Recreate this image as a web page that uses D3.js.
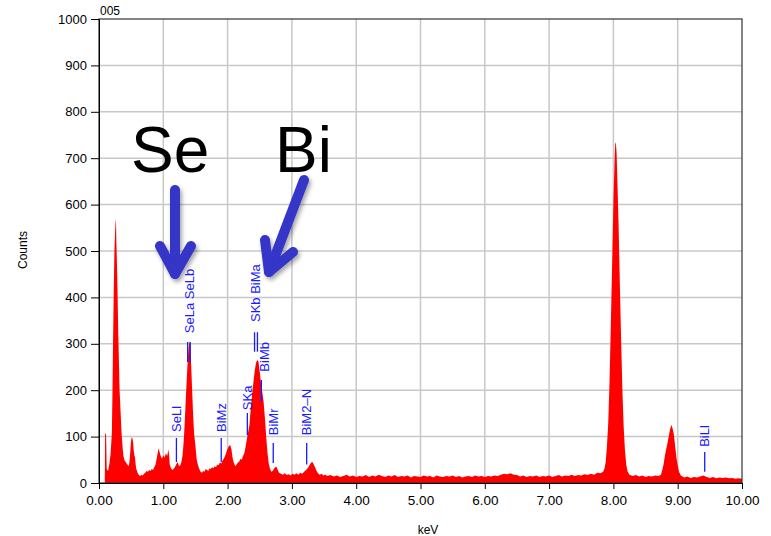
<!DOCTYPE html>
<html>
<head>
<meta charset="utf-8">
<script src="https://cdn.jsdelivr.net/npm/d3@7"></script>
<style>
  body { margin: 0; background: #fff; }
  svg { display: block; font-family: "Liberation Sans", Arial, sans-serif; }
</style>
</head>
<body>
<svg id="chart" width="771" height="536"></svg>
<script>
// spectrum: [keV, counts]
const lowEnergy = [
  [0.09,0],[0.095,108],[0.11,104],[0.12,30],[0.14,26],[0.16,40],[0.18,62],[0.20,108],[0.21,200],[0.22,320],
  [0.23,420],[0.24,500],[0.25,540],[0.26,569],[0.265,560],[0.27,520],[0.28,470],[0.29,400],[0.30,320],[0.31,260],
  [0.32,200],[0.33,170],[0.34,140],[0.35,110],[0.36,90],[0.37,72],[0.38,58],[0.39,52],[0.40,48],[0.42,44],
  [0.44,40],[0.46,36],[0.47,42],[0.48,55],[0.49,75],[0.50,92],[0.51,99],[0.52,96],[0.53,88],[0.54,70],
  [0.55,60],[0.56,55],[0.57,40],[0.58,30],[0.60,22],[0.62,17],[0.64,15],[0.66,18],[0.68,16],[0.70,20]
];
const seRegion = [
  [0.72,22],[0.74,26],[0.76,24],[0.78,28],[0.80,26],[0.82,30],[0.84,28],[0.86,34],[0.88,40],[0.90,55],
  [0.92,70],[0.93,75],[0.94,68],[0.96,58],[0.98,52],[1.00,60],[1.02,55],[1.04,64],[1.06,58],[1.08,72],
  [1.09,60],[1.10,40],[1.12,32],[1.14,28],[1.16,30],[1.18,34],[1.20,40],[1.22,45],[1.24,38],[1.26,36],
  [1.28,44],[1.30,60],[1.32,95],[1.34,150],[1.36,210],[1.38,265],[1.39,285],[1.40,300],[1.41,305],[1.42,290],
  [1.43,265],[1.44,230],[1.45,195],[1.46,160],[1.47,130],[1.48,105],[1.50,80],[1.52,50],[1.54,38],[1.56,30],
  [1.58,24],[1.60,22]
];
const biRegion = [
  [1.62,26],[1.64,24],[1.66,30],[1.68,28],[1.70,26],[1.72,32],[1.74,30],[1.76,34],[1.78,32],[1.80,36],
  [1.82,34],[1.84,40],[1.86,38],[1.88,44],[1.90,42],[1.92,48],[1.94,52],[1.96,58],[1.98,66],[2.00,74],
  [2.02,80],[2.04,82],[2.06,72],[2.08,52],[2.10,42],[2.12,36],[2.14,40],[2.16,44],[2.18,46],[2.20,52],
  [2.22,50],[2.24,58],[2.26,64],[2.28,78],[2.30,95],[2.32,110],[2.34,125],[2.36,160],[2.38,190],[2.40,215],
  [2.42,240],[2.44,258],[2.46,265],[2.48,262],[2.50,240],[2.52,215],[2.54,195],[2.56,175],[2.58,140],[2.60,100],
  [2.62,65],[2.64,42],[2.66,30],[2.68,24],[2.70,26],[2.72,30],[2.74,34],[2.76,35],[2.78,28],[2.80,22],
  [2.83,20],[2.86,18],[2.89,21],[2.92,17],[2.95,19],[2.98,16],[3.01,20],[3.04,18],[3.07,21],[3.10,18],
  [3.13,22],[3.16,20],[3.19,24],[3.22,28],[3.25,33],[3.28,40],[3.30,44],[3.32,45],[3.34,40],[3.36,34],
  [3.38,27],[3.40,22],[3.43,18],[3.46,20],[3.49,16],[3.52,18],[3.55,15]
];
const baseline = [
  [3.60,17],[3.65,14],[3.70,16],[3.75,13],[3.80,15],[3.85,18],[3.90,14],[3.95,16],[4.00,13],[4.05,15],
  [4.10,14],[4.15,17],[4.20,13],[4.25,16],[4.30,14],[4.35,18],[4.40,15],[4.45,13],[4.50,16],[4.55,14],
  [4.60,17],[4.65,13],[4.70,15],[4.75,14],[4.80,16],[4.85,12],[4.90,15],[4.95,14],[5.00,13],[5.05,16],
  [5.10,14],[5.15,15],[5.20,12],[5.25,16],[5.30,14],[5.35,13],[5.40,15],[5.45,14],[5.50,16],[5.55,13],
  [5.60,15],[5.65,12],[5.70,14],[5.75,15],[5.80,13],[5.85,16],[5.90,14],[5.95,15],[6.00,13],[6.05,15],
  [6.10,14],[6.15,16],[6.20,15],[6.25,18],[6.30,20],[6.35,19],[6.40,21],[6.45,18],[6.50,17],[6.55,14],
  [6.60,16],[6.65,13],[6.70,15],[6.75,14],[6.80,16],[6.85,13],[6.90,15],[6.95,14],[7.00,16],[7.05,13],
  [7.10,15],[7.15,17],[7.20,14],[7.25,16],[7.30,15],[7.35,18],[7.40,15],[7.45,17],[7.50,16],[7.55,19],
  [7.60,17],[7.65,20],[7.70,18],[7.75,22],[7.80,21],[7.84,24]
];
const cuRegion = [
  [7.86,30],[7.88,45],[7.90,80],[7.92,130],[7.94,220],[7.96,340],[7.98,470],[8.00,600],[8.02,705],[8.03,735],
  [8.04,730],[8.05,710],[8.06,660],[8.08,560],[8.10,430],[8.12,310],[8.14,200],[8.16,120],[8.18,70],[8.20,40],
  [8.22,25],[8.25,18],[8.30,15],[8.35,17],[8.40,14],[8.45,16],[8.50,13],[8.55,15],[8.60,14],[8.65,16],
  [8.70,15],[8.74,18],[8.76,28],[8.78,40],[8.80,58],[8.82,72],[8.84,85],[8.86,100],[8.88,115],[8.90,125],
  [8.91,122],[8.92,118],[8.94,105],[8.96,80],[8.98,55],[9.00,38],[9.02,24],[9.05,16],[9.10,12],[9.15,14],
  [9.20,11],[9.25,13],[9.30,12],[9.35,14],[9.40,16],[9.45,13],[9.50,11],[9.55,13],[9.60,10],[9.65,12],
  [9.70,11],[9.75,12],[9.80,10],[9.85,11],[9.90,9],[9.95,10],[10.00,9]
];
const spectrum = [].concat(lowEnergy, seRegion, biRegion, baseline, cuRegion);

// peak markers: keV of each line, counts of line bottom/top; labels grouped with their base
const markerKev   = [1.204, 1.379, 1.419, 1.901, 2.307, 2.419, 2.464, 2.525, 2.71, 3.23, 9.42];
const markerLow   = [45, 261, 261, 45, 103, 283, 283, 175, 43, 40, 24];
const markerHigh  = [97, 304, 304, 97, 151, 325, 325, 222, 86, 86, 67];
const labelText   = ["SeLl", "SeLa SeLb", "BiMz", "SKa", "SKb BiMa", "BiMb", "BiMr", "BiM2\u2013N", "BiLl"];
const labelKev    = [1.204, 1.40, 1.901, 2.307, 2.44, 2.57, 2.71, 3.23, 9.42];
const labelBase   = [110, 323, 110, 157, 347, 240, 103, 103, 78];

const xTicks = d3.range(0, 11);
const yTicks = d3.range(0, 1001, 100);

const svg = d3.select('#chart');
const x = d3.scaleLinear().domain([0, 10]).range([99, 742]);
const y = d3.scaleLinear().domain([0, 1000]).range([483, 19]);

// grid
svg.append('g')
  .selectAll('line')
  .data(xTicks.slice(1, -1))
  .enter()
  .append('line')
  .attr('x1', d => x(d)).attr('x2', d => x(d))
  .attr('y1', y(1000)).attr('y2', y(0))
  .attr('stroke', '#c8c8c8').attr('stroke-width', 1.5);
svg.append('g')
  .selectAll('line')
  .data(yTicks.slice(1, -1))
  .enter()
  .append('line')
  .attr('x1', x(0)).attr('x2', x(10))
  .attr('y1', d => y(d)).attr('y2', d => y(d))
  .attr('stroke', '#c8c8c8').attr('stroke-width', 1.5);

// spectrum
const area = d3.area()
  .x(d => x(d[0]))
  .y0(y(0))
  .y1(d => y(d[1]));
svg.append('path')
  .datum(spectrum)
  .attr('d', area)
  .attr('fill', '#ff0000');

// frame
svg.append('rect')
  .attr('x', x(0)).attr('y', y(1000))
  .attr('width', x(10) - x(0)).attr('height', y(0) - y(1000))
  .attr('fill', 'none').attr('stroke', '#333').attr('stroke-width', 1.2);

// axes
const xAxis = svg.append('g')
  .attr('transform', `translate(0,${y(0)})`)
  .call(d3.axisBottom(x).tickValues(xTicks).tickFormat(d3.format('.2f')).tickSize(6).tickPadding(6));
xAxis.select('.domain').attr('stroke', '#000');
xAxis.selectAll('text').attr('font-size', 13.5).attr('fill', '#000')
  .attr('font-family', '"Liberation Sans", Arial, sans-serif');

const yAxis = svg.append('g')
  .attr('transform', `translate(${x(0)},0)`)
  .call(d3.axisLeft(y).tickValues(yTicks).tickFormat(d3.format('d')).tickSize(8).tickPadding(4));
yAxis.select('.domain').attr('stroke', '#000');
yAxis.selectAll('text').attr('font-size', 13).attr('fill', '#000')
  .attr('font-family', '"Liberation Sans", Arial, sans-serif');

svg.append('text')
  .attr('transform', 'translate(27,250) rotate(-90)')
  .attr('text-anchor', 'middle')
  .attr('font-size', 12)
  .text('Counts');
svg.append('text')
  .attr('x', 428).attr('y', 534)
  .attr('text-anchor', 'middle')
  .attr('font-size', 12)
  .text('keV');
svg.append('text')
  .attr('x', 100).attr('y', 15)
  .attr('font-size', 12)
  .text('005');

// peak markers
svg.append('g')
  .selectAll('line')
  .data(markerKev)
  .enter()
  .append('line')
  .attr('x1', d => x(d)).attr('x2', d => x(d))
  .attr('y1', (d, i) => y(markerLow[i]))
  .attr('y2', (d, i) => y(markerHigh[i]))
  .attr('stroke', '#1a1aff').attr('stroke-width', 1.3);

svg.append('g')
  .selectAll('text')
  .data(labelText)
  .enter()
  .append('text')
  .attr('transform', (d, i) => `translate(${x(labelKev[i]) + 4.5},${y(labelBase[i])}) rotate(-90)`)
  .attr('font-size', 13)
  .attr('fill', '#1a1aff')
  .text(d => d);

// annotations
const defs = svg.append('defs');
defs.append('filter')
  .attr('id', 'shadow')
  .attr('x', '-30%').attr('y', '-30%').attr('width', '160%').attr('height', '160%')
  .append('feDropShadow')
  .attr('dx', 2).attr('dy', 3).attr('stdDeviation', 2)
  .attr('flood-color', '#000').attr('flood-opacity', 0.35);

svg.append('text')
  .attr('x', 131).attr('y', 172)
  .attr('font-size', 64)
  .text('Se');
svg.append('text')
  .attr('x', 275).attr('y', 172)
  .attr('font-size', 64)
  .text('Bi');

const arrows = [
  ['M175,190 L175,274', 'M160,246 L175,274 L191,246'],
  ['M304,180 L269,272', 'M265,240 L269,272 L293,252']
];
arrows.forEach(a => {
  const g = svg.append('g').attr('filter', 'url(#shadow)');
  a.forEach(p => g.append('path')
    .attr('d', p)
    .attr('fill', 'none')
    .attr('stroke', '#3434c8')
    .attr('stroke-width', 10)
    .attr('stroke-linecap', 'round')
    .attr('stroke-linejoin', 'round'));
});
</script>
</body>
</html>
